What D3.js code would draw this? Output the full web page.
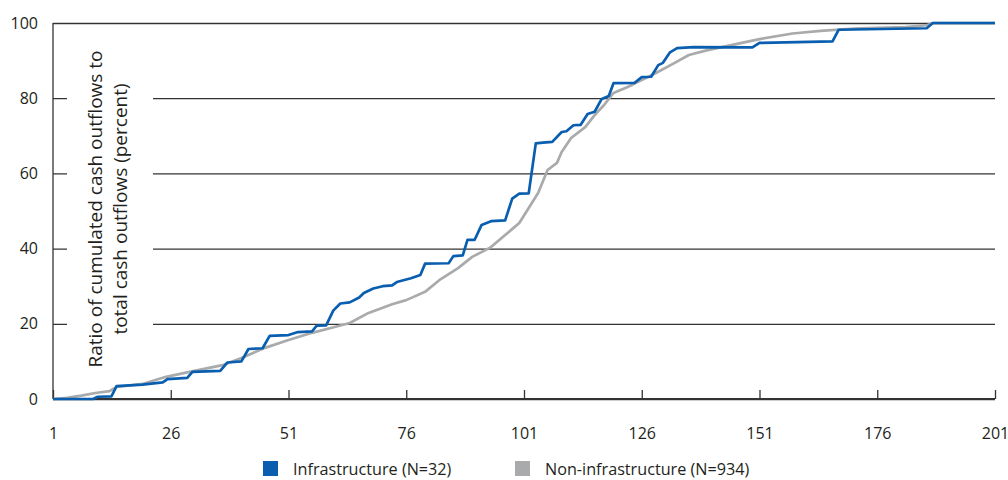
<!DOCTYPE html>
<html>
<head>
<meta charset="utf-8">
<script src="https://cdn.jsdelivr.net/npm/d3@7"></script>
<style>
  body { margin: 0; background: #fff; }
  text { font-family: "Open Sans", sans-serif; fill: #231f20; }
</style>
</head>
<body>
<svg id="chart" width="1008" height="480"></svg>
<script>
// values
const xTicks = [1, 26, 51, 76, 101, 126, 151, 176, 201]
const yTicks = [0, 20, 40, 60, 80, 100]
const seriesNames = ["Infrastructure (N=32)", "Non-infrastructure (N=934)"]
const yTitle = ["Ratio of cumulated cash outflows to", "total cash outflows (percent)"]

const infraIdx = [1, 9.5, 10.5, 13.4, 14.5, 20, 24.3, 25.3, 29.5, 30.6, 36.5, 38, 41, 42.5, 45.5, 47, 51, 53, 56, 57,
  59, 60.5, 62, 64, 66, 67, 69, 71, 73, 74, 77, 79, 80, 85, 86, 88, 89, 90.5, 92, 94,
  97, 98.5, 100, 102, 103.5, 105, 107, 109, 110, 111.5, 113, 114.5, 116, 117.5, 119, 120, 124.5, 126, 128, 129.5,
  130.5, 132, 133.5, 137, 149.5, 151, 166.5, 167.8, 186.5, 187.8, 201]
const infraPct = [0, 0, 0.6, 0.7, 3.4, 3.8, 4.4, 5.3, 5.6, 7.2, 7.5, 9.7, 10, 13.3, 13.5, 16.8, 17, 17.8, 18, 19.5,
  19.6, 23.5, 25.4, 25.7, 27, 28.2, 29.4, 30, 30.2, 31.1, 32.1, 33, 36, 36.1, 38, 38.2, 42.3, 42.3, 46.3, 47.3,
  47.5, 53.3, 54.6, 54.7, 68, 68.2, 68.4, 71, 71.2, 72.8, 72.9, 75.8, 76.4, 79.8, 80.6, 84, 84.1, 85.6, 85.7, 88.8,
  89.4, 92.2, 93.3, 93.6, 93.5, 94.7, 95.1, 98.2, 98.6, 100, 100]

const nonInfraIdx = [1, 4, 7, 10, 13, 14.5, 20, 25, 30, 37, 41, 46, 51, 56, 60, 64, 68, 73, 76, 80,
  83, 87, 90, 94, 97, 100, 102, 104, 106, 108, 109, 111, 114, 116, 118, 120, 123, 126, 129, 133,
  136, 140, 145, 151, 158, 164, 172, 182, 186.5, 188, 201]
const nonInfraPct = [0, 0.3, 0.9, 1.6, 2.1, 3.2, 4, 5.9, 7.2, 9, 10.9, 13.6, 15.7, 17.6, 18.9, 20.2, 22.9, 25.2, 26.3, 28.5,
  31.6, 34.8, 37.8, 40.4, 43.6, 46.8, 50.8, 54.8, 60.9, 62.8, 65.7, 69.4, 72.3, 75.5, 78.2, 81.4, 83, 84.8, 86.7, 89.4,
  91.5, 92.8, 94.1, 95.7, 97.2, 97.9, 98.6, 98.9, 99.4, 100, 100]

const blue = "#0a5eb0"
const gray = "#a9aaac"
const ink = "#333"

const svg = d3.select("#chart")

const x = d3.scaleLinear().domain([1, 201]).range([53, 995])
const y = d3.scaleLinear().domain([0, 100]).range([399, 23])

// gridlines + y labels
const yAxis = svg.append("g")
  .attr("transform", `translate(${x(1)},0)`)
  .call(d3.axisLeft(y).tickValues(yTicks).tickSize(-(x(201) - x(1))).tickPadding(15))
yAxis.select(".domain").remove()
yAxis.selectAll(".tick line").attr("stroke", ink).attr("stroke-width", 1.3)
yAxis.selectAll(".tick text").style("font-size", "16px").attr("fill", "#231f20")

// white gap behind the axis title
svg.append("rect")
  .attr("x", x(1) + 14).attr("y", y(88))
  .attr("width", 86).attr("height", y(12) - y(88))
  .attr("fill", "#fff")

// left axis line
svg.append("line")
  .attr("x1", x(1)).attr("x2", x(1))
  .attr("y1", y(100)).attr("y2", y(0))
  .attr("stroke", ink).attr("stroke-width", 1.3)

// x axis
const xAxis = svg.append("g")
  .attr("transform", `translate(0,${y(0)})`)
  .call(d3.axisBottom(x).tickValues(xTicks).tickSizeInner(-9).tickSizeOuter(0).tickPadding(29))
xAxis.select(".domain").remove()
xAxis.selectAll(".tick line").attr("stroke", ink).attr("stroke-width", 1.3)
xAxis.selectAll(".tick text").style("font-size", "16px").attr("fill", "#231f20")

svg.append("line")
  .attr("x1", x(1)).attr("x2", x(201))
  .attr("y1", y(0)).attr("y2", y(0))
  .attr("stroke", ink).attr("stroke-width", 2.2)

// y title
const title = svg.append("text")
  .attr("transform", `translate(102,209) rotate(-90)`)
  .attr("text-anchor", "middle")
  .style("font-size", "19px")
title.selectAll("tspan")
  .data(yTitle)
  .join("tspan")
  .attr("x", 0)
  .attr("y", (d, i) => i * 25)
  .text(d => d)

// series
const line = d3.line().x(d => x(d[0])).y(d => y(d[1]))
const nonInfra = nonInfraIdx.map((v, i) => [v, nonInfraPct[i]])
const infra = infraIdx.map((v, i) => [v, infraPct[i]])

svg.append("path")
  .datum(nonInfra)
  .attr("d", line)
  .attr("fill", "none")
  .attr("stroke", gray)
  .attr("stroke-width", 2.7)
  .attr("stroke-linejoin", "round")

svg.append("path")
  .datum(infra)
  .attr("d", line)
  .attr("fill", "none")
  .attr("stroke", blue)
  .attr("stroke-width", 2.7)
  .attr("stroke-linejoin", "round")

// legend
const legendX = [263, 515]
const legend = svg.selectAll(".legend")
  .data(seriesNames)
  .join("g")
  .attr("class", "legend")
  .attr("transform", (d, i) => `translate(${legendX[i]},461)`)
legend.append("rect")
  .attr("width", 15).attr("height", 15)
  .attr("fill", (d, i) => i === 0 ? blue : gray)
legend.append("text")
  .attr("x", 30).attr("y", 14)
  .style("font-size", "16.2px")
  .text(d => d)
</script>
</body>
</html>
